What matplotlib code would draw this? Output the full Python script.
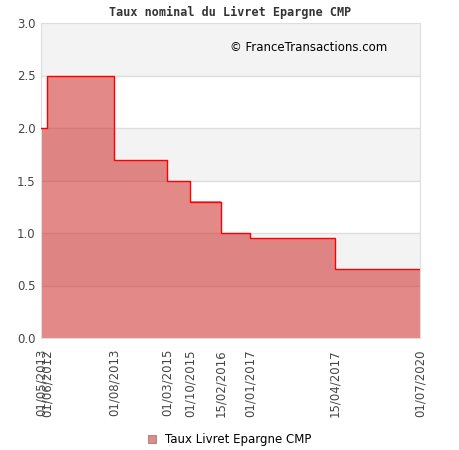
import numpy as np
import matplotlib.pyplot as plt

dates = ['01/05/2013', '01/06/2012', '01/08/2013', '01/03/2015', '01/10/2015',
         '15/02/2016', '01/01/2017', '15/04/2017', '01/07/2020']
# horizontal position of each date on the chart's axis (as drawn by the source)
xpos = [0, 6, 73, 126, 149, 180, 209, 294, 379]
taux = [2.0, 2.5, 1.7, 1.5, 1.3, 1.0, 0.95, 0.66, 0.66]

fig = plt.figure(figsize=(4.6, 4.5), dpi=100)
ax = fig.add_axes([41/460, 1 - 338/450, 379/460, 315/450])

# alternating bands
for k in range(6):
    if k % 2 == 1:
        ax.axhspan(k*0.5, (k+1)*0.5, color='#f3f3f3', zorder=0, lw=0)
for yv in np.arange(0.5, 3.0, 0.5):
    ax.axhline(yv, color='#dddddd', lw=1, zorder=1)

ax.fill_between(xpos, taux, step='post', color='#d03533', alpha=0.58, lw=0,
                zorder=2)
ax.step(xpos, taux, where='post', color='red', lw=1, zorder=3)

ax.set_xlim(xpos[0], xpos[-1])
ax.set_ylim(0, 3.0)
ax.set_yticks(np.arange(0, 3.01, 0.5))
ax.set_yticklabels(['%.1f' % v for v in np.arange(0, 3.01, 0.5)])
ax.set_xticks(xpos)
ax.set_xticklabels(dates, rotation=90)
ax.tick_params(length=0, labelsize=8.5, colors='#444444')
ax.tick_params(axis='x', pad=8)
ax.tick_params(axis='y', pad=4)
for s in ax.spines.values():
    s.set_color('#dddddd')

ax.set_title('Taux nominal du Livret Epargne CMP', fontsize=8.5, family='DejaVu Sans Mono',
             fontweight='bold', color='#333333', pad=5)
ax.text(0.5, 0.912, '\u00a9 FranceTransactions.com', transform=ax.transAxes,
        fontsize=8.5, color='black')

ax.fill_between([], [], color='#d03533', alpha=0.58, ec='#666666', lw=0.8,
                label='Taux Livret Epargne CMP')
fig.legend(loc='center', bbox_to_anchor=(0.5, 1 - 440/450), frameon=False,
           fontsize=8.5, handlelength=0.65, handleheight=0.65, handletextpad=0.8)

fig.savefig('out.png', dpi=100)
